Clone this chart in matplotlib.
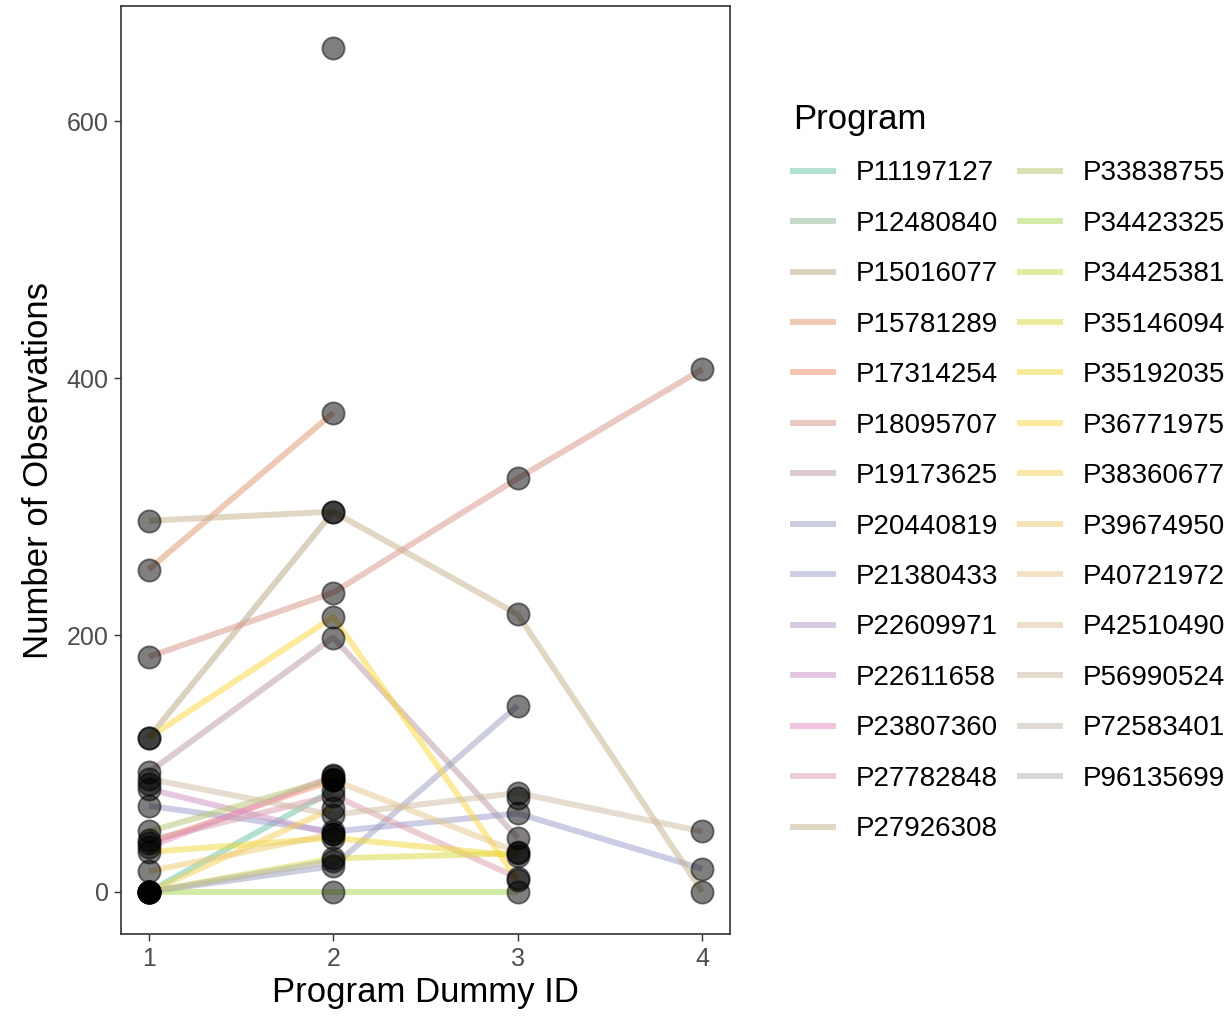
import numpy as np
import matplotlib
matplotlib.use("Agg")
import matplotlib.pyplot as plt
from matplotlib.lines import Line2D

plt.rcParams['font.family'] = ['Liberation Sans', 'DejaVu Sans']

# programs shown in the legend (in order)
programs = ["P11197127", "P12480840", "P15016077", "P15781289", "P17314254",
            "P18095707", "P19173625", "P20440819", "P21380433", "P22609971",
            "P22611658", "P23807360", "P27782848", "P27926308", "P33838755",
            "P34423325", "P34425381", "P35146094", "P35192035", "P36771975",
            "P38360677", "P39674950", "P40721972", "P42510490", "P56990524",
            "P72583401", "P96135699"]

# long format observations: program, dummy id, number of observations
obs_program = ["P11197127", "P11197127",
               "P12480840",
               "P15016077", "P15016077",
               "P15781289", "P15781289",
               "P17314254", "P17314254",
               "P18095707", "P18095707", "P18095707", "P18095707",
               "P19173625", "P19173625", "P19173625",
               "P20440819", "P20440819", "P20440819",
               "P21380433", "P21380433", "P21380433", "P21380433",
               "P22609971",
               "P22611658", "P22611658",
               "P23807360", "P23807360",
               "P27782848", "P27782848", "P27782848",
               "P27926308", "P27926308", "P27926308", "P27926308",
               "P33838755", "P33838755",
               "P34423325", "P34423325", "P34423325",
               "P34425381",
               "P35146094", "P35146094", "P35146094",
               "P35192035", "P35192035", "P35192035",
               "P36771975", "P36771975", "P36771975",
               "P38360677", "P38360677",
               "P39674950", "P39674950",
               "P40721972", "P40721972",
               "P42510490",
               "P56990524", "P56990524", "P56990524", "P56990524",
               "P72583401",
               "P96135699", "P96135699"]
obs_id = [1, 2,
          2,
          1, 2,
          1, 2,
          1, 2,
          1, 2, 3, 4,
          1, 2, 3,
          1, 2, 3,
          1, 2, 3, 4,
          1,
          1, 2,
          1, 2,
          1, 2, 3,
          1, 2, 3, 4,
          1, 2,
          1, 2, 3,
          3,
          1, 2, 3,
          1, 2, 3,
          1, 2, 3,
          1, 2,
          1, 2,
          2, 3,
          2,
          1, 2, 3, 4,
          1,
          1, 2]
obs_n = [0, 79,
         657,
         120, 296,
         251, 373,
         38, 87,
         183, 233, 322, 407,
         93, 198, 42,
         0, 20, 145,
         67, 47, 61, 18,
         84,
         80, 45,
         35, 90,
         40, 75, 11,
         289, 296, 216, 0,
         47, 88,
         0, 0, 0,
         73,
         0, 26, 30,
         31, 42, 28,
         120, 214, 9,
         0, 65,
         16, 45,
         87, 31,
         91,
         88, 60, 77, 47,
         0,
         0, 24]

# Set2 colour ramp, like colorRampPalette(brewer.pal(8, "Set2"))
set2 = np.array([[102, 194, 165], [252, 141, 98], [141, 160, 203], [231, 138, 195],
                 [166, 216, 84], [255, 217, 47], [229, 196, 148], [179, 179, 179]]) / 255
pos = np.linspace(0, 7, len(programs))
ramp = np.array([[np.interp(p, np.arange(8), set2[:, c]) for c in range(3)] for p in pos])

fig = plt.figure(figsize=(12.27, 10.17), dpi=100)
ax = fig.add_axes([121 / 1227, 1 - 934 / 1017, 609 / 1227, 928 / 1017])

obs_program = np.array(obs_program)
obs_id = np.array(obs_id)
obs_n = np.array(obs_n)

for i, p in enumerate(programs):
    m = obs_program == p
    xs, ys = obs_id[m], obs_n[m]
    order = np.argsort(xs)
    ax.plot(xs[order], ys[order], color=ramp[i], alpha=0.5, lw=4.3,
            solid_capstyle='butt', zorder=2)

ax.scatter(obs_id, obs_n, s=16 ** 2, facecolor=(0, 0, 0, 0.5),
           edgecolor=(0, 0, 0, 0.5), linewidths=1.3, zorder=3)

ax.set_xlim(0.85, 4.15)
ax.set_ylim(-32.85, 689.85)
ax.set_xticks([1, 2, 3, 4])
ax.set_yticks([0, 200, 400, 600])
ax.tick_params(direction='out', length=5, width=1, color='#333333',
               labelsize=18, labelcolor='#4d4d4d', pad=4)
for s in ax.spines.values():
    s.set_color('#333333')
    s.set_linewidth(1.2)
ax.set_xlabel("Program Dummy ID", fontsize=25, labelpad=4)
ax.set_ylabel("Number of Observations", fontsize=25, labelpad=8)

handles = [Line2D([0], [0], color=ramp[i], alpha=0.5, lw=4.3) for i in range(len(programs))]
leg = fig.legend(handles, programs, loc='upper left', bbox_to_anchor=(768 / 1227, 1 - 78 / 1017),
                 ncol=2, frameon=False, fontsize=20, title="Program", title_fontsize=25,
                 handlelength=1.45, handletextpad=0.8, columnspacing=0.8,
                 labelspacing=0.88, alignment='left')

fig.savefig("out.png", dpi=100)
